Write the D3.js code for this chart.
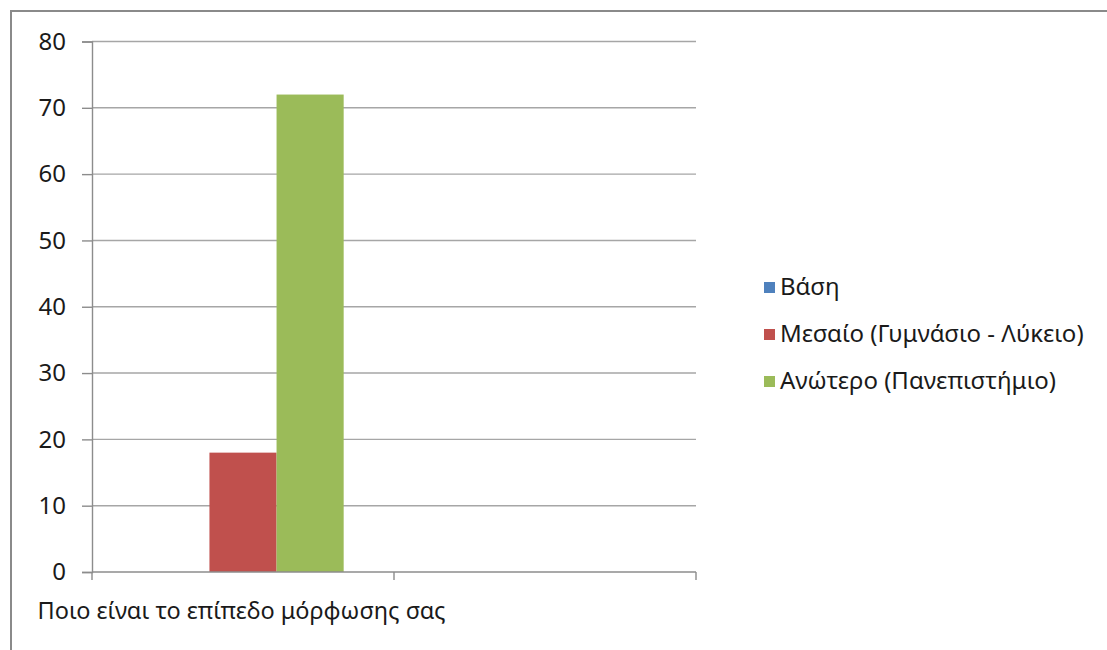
<!DOCTYPE html>
<html>
<head>
<meta charset="utf-8">
<script src="https://cdn.jsdelivr.net/npm/d3@7"></script>
<style>
  html, body { margin: 0; padding: 0; background: #fff; }
  svg { display: block; }
  text { font-family: "Noto Sans", "DejaVu Sans", sans-serif; fill: #1a1a1a; }
</style>
</head>
<body>
<svg id="chart" width="1107" height="650"></svg>
<script>
// Education level survey: one question, three answer groups
const categories = ["Ποιο είναι το επίπεδο μόρφωσης σας", ""];
const seriesNames = ["Βάση", "Μεσαίο (Γυμνάσιο - Λύκειο)", "Ανώτερο (Πανεπιστήμιο)"];
const seriesColors = ["#4F81BD", "#C0504D", "#9BBB59"];
const valuesBasic = [0, null];
const valuesMiddle = [18, null];
const valuesHigher = [72, null];
const yTicks = [0, 10, 20, 30, 40, 50, 60, 70, 80];

const seriesValues = [valuesBasic, valuesMiddle, valuesHigher];

const svg = d3.select("#chart");
const W = 1107, H = 650;
const plot = { left: 92, right: 696, top: 41.5, bottom: 572 };

// outer chart frame
svg.append("rect")
  .attr("x", 11).attr("y", 11)
  .attr("width", W + 20).attr("height", H + 20)
  .attr("fill", "none").attr("stroke", "#8a8a8a").attr("stroke-width", 2);

const x = d3.scaleBand()
  .domain(d3.range(categories.length))
  .range([plot.left, plot.right])
  .paddingInner(0).paddingOuter(0);

const y = d3.scaleLinear().domain([0, 80]).range([plot.bottom, plot.top]);

// horizontal gridlines
svg.append("g").selectAll("line")
  .data(yTicks.filter(t => t > 0))
  .join("line")
  .attr("x1", plot.left).attr("x2", plot.right)
  .attr("y1", d => y(d)).attr("y2", d => y(d))
  .attr("stroke", "#a6a6a6").attr("stroke-width", 1.4);

// y axis
const yAxis = svg.append("g")
  .attr("transform", `translate(${plot.left},0)`)
  .call(d3.axisLeft(y).tickValues(yTicks).tickSize(10).tickPadding(16));
yAxis.select(".domain").attr("stroke", "#8c8c8c").attr("stroke-width", 1.4);
yAxis.selectAll(".tick line").attr("stroke", "#8c8c8c").attr("stroke-width", 1.4);
yAxis.selectAll(".tick text")
  .attr("font-size", 24).attr("fill", "#1a1a1a")
  .style("font-family", "'Noto Sans', sans-serif");

// grouped bars: 3 bars per category, gap of 1.5 bar widths
const barW = x.bandwidth() / (seriesNames.length + 1.5);
const bars = [];
categories.forEach((c, ci) => {
  seriesValues.forEach((vals, si) => {
    if (vals[ci] != null) bars.push({ ci, si, v: vals[ci] });
  });
});
svg.append("g").selectAll("rect")
  .data(bars)
  .join("rect")
  .attr("x", d => x(d.ci) + barW * 0.75 + d.si * barW)
  .attr("width", barW)
  .attr("y", d => y(d.v))
  .attr("height", d => y(0) - y(d.v))
  .attr("fill", d => seriesColors[d.si]);

// x axis with tick marks at category boundaries
const xg = svg.append("g");
xg.append("line")
  .attr("x1", plot.left).attr("x2", plot.right)
  .attr("y1", plot.bottom).attr("y2", plot.bottom)
  .attr("stroke", "#8c8c8c").attr("stroke-width", 1.4);
const bounds = d3.range(categories.length + 1).map(i => i < categories.length ? x(i) : plot.right);
xg.selectAll(".xt").data(bounds).join("line")
  .attr("x1", d => d).attr("x2", d => d)
  .attr("y1", plot.bottom).attr("y2", plot.bottom + 8)
  .attr("stroke", "#8c8c8c").attr("stroke-width", 1.4);
xg.selectAll("text").data(categories).join("text")
  .attr("x", (d, i) => x(i) + x.bandwidth() / 2 - 1.5)
  .attr("y", 611)
  .attr("dy", "0.35em")
  .attr("text-anchor", "middle")
  .attr("font-size", 23.5)
  .text(d => d);

// legend
const legend = svg.append("g");
const legendY = [287, 334, 381];
seriesNames.forEach((name, i) => {
  legend.append("rect")
    .attr("x", 764).attr("y", legendY[i] - 5)
    .attr("width", 11).attr("height", 11)
    .attr("fill", seriesColors[i]);
  legend.append("text")
    .attr("x", 780).attr("y", legendY[i])
    .attr("dy", "0.35em")
    .attr("font-size", 24)
    .text(name);
});
</script>
</body>
</html>
